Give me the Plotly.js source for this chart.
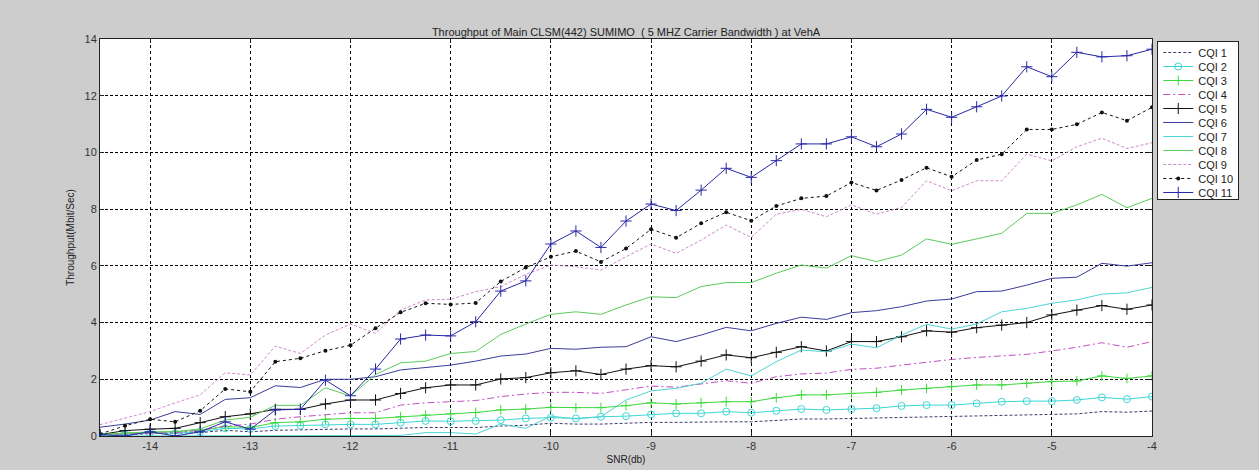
<!DOCTYPE html>
<html>
<head>
<meta charset="utf-8">
<script src="https://cdn.plot.ly/plotly-3.0.1.min.js"></script>
<style>html,body{margin:0;padding:0;background:#cdcdcd;}#chart{width:1259px;height:470px;}</style>
</head>
<body>
<div id="chart"></div>
<script>
const snr = [-14.5,-14.25,-14,-13.75,-13.5,-13.25,-13,-12.75,-12.5,-12.25,-12,-11.75,-11.5,-11.25,-11,-10.75,-10.5,-10.25,-10,-9.75,-9.5,-9.25,-9,-8.75,-8.5,-8.25,-8,-7.75,-7.5,-7.25,-7,-6.75,-6.5,-6.25,-6,-5.75,-5.5,-5.25,-5,-4.75,-4.5,-4.25,-4];

const cqi1  = [0.05,0.05,0.08,0.1,0.12,0.2,0.15,0.2,0.22,0.22,0.25,0.25,0.28,0.3,0.3,0.3,0.35,0.38,0.45,0.42,0.42,0.45,0.48,0.48,0.5,0.5,0.5,0.55,0.6,0.6,0.62,0.62,0.64,0.66,0.68,0.7,0.72,0.74,0.76,0.78,0.86,0.84,0.88];
const cqi2  = [0.02,0.05,0.1,0.1,0.15,0.27,0.25,0.35,0.37,0.41,0.41,0.41,0.47,0.53,0.52,0.53,0.56,0.62,0.65,0.62,0.68,0.7,0.76,0.8,0.8,0.86,0.82,0.89,0.95,0.92,0.95,0.98,1.06,1.09,1.09,1.15,1.21,1.23,1.23,1.27,1.36,1.3,1.39];
const cqi3  = [0.05,0.1,0.12,0.15,0.2,0.33,0.3,0.47,0.5,0.59,0.62,0.62,0.68,0.74,0.78,0.83,0.92,0.95,1.01,1.0,1.0,1.07,1.17,1.13,1.17,1.21,1.21,1.35,1.45,1.45,1.5,1.54,1.62,1.68,1.74,1.8,1.8,1.86,1.92,1.94,2.12,2.03,2.12];
const cqi4  = [0.05,0.07,0.1,0.12,0.2,0.35,0.42,0.59,0.68,0.74,0.82,0.82,1.09,1.17,1.2,1.25,1.39,1.48,1.54,1.54,1.5,1.62,1.76,1.72,1.83,1.95,1.86,2.09,2.19,2.22,2.35,2.39,2.5,2.6,2.7,2.77,2.82,2.88,3.0,3.13,3.29,3.13,3.33];
const cqi5  = [0.05,0.19,0.24,0.27,0.47,0.68,0.78,0.94,0.94,1.13,1.27,1.27,1.5,1.70,1.8,1.8,2.01,2.06,2.23,2.3,2.17,2.36,2.48,2.44,2.64,2.86,2.76,2.95,3.15,3.0,3.33,3.33,3.5,3.71,3.66,3.82,3.91,4.0,4.27,4.44,4.6,4.47,4.62];
const cqi6  = [0.31,0.42,0.56,0.86,0.76,1.29,1.35,1.77,1.71,2.0,2.0,2.09,2.33,2.41,2.5,2.64,2.82,2.89,3.09,3.06,3.13,3.15,3.5,3.33,3.56,3.83,3.71,3.97,4.19,4.11,4.35,4.42,4.56,4.76,4.83,5.09,5.11,5.32,5.56,5.6,6.09,5.99,6.11];
const cqi7  = [0,0,0,0,0,0,0,0,0,0,0,0,0.02,0.12,0.12,0.07,0.42,0.27,0.7,0.6,0.68,1.27,1.59,1.68,1.86,2.36,2.12,2.62,3.03,2.97,3.24,3.11,3.56,3.94,3.77,3.95,4.38,4.5,4.68,4.8,5.0,5.05,5.24];
const cqi8  = [0.05,0.1,0.15,0.15,0.25,0.56,0.66,1.08,1.08,1.70,1.41,2.17,2.58,2.64,2.91,2.98,3.58,3.95,4.29,4.38,4.29,4.62,4.91,4.88,5.27,5.41,5.41,5.74,6.03,5.92,6.36,6.15,6.38,6.95,6.76,6.95,7.15,7.85,7.85,8.15,8.52,8.05,8.38];
const cqi9  = [0.4,0.62,0.86,1.17,1.45,2.23,2.15,3.17,2.91,3.56,3.95,3.62,4.44,4.8,4.82,5.09,5.27,5.70,6.03,5.97,5.85,6.32,6.77,6.44,6.91,7.44,7.0,7.82,7.99,7.73,8.15,7.82,8.06,9.0,8.65,9.0,9.0,9.94,9.70,10.2,10.5,10.14,10.34];
const cqi10 = [0.07,0.36,0.59,0.5,0.89,1.66,1.56,2.62,2.74,3.01,3.2,3.80,4.36,4.68,4.64,4.69,5.45,5.94,6.32,6.52,6.14,6.61,7.29,6.99,7.5,7.89,7.59,8.11,8.38,8.46,8.94,8.66,9.03,9.46,9.14,9.73,9.94,10.81,10.81,10.99,11.41,11.12,11.59];
const cqi11 = [0.05,0.0,0.15,0.0,0.15,0.5,0.24,0.92,0.94,1.97,1.42,2.36,3.42,3.56,3.53,4.03,5.11,5.47,6.77,7.23,6.65,7.58,8.18,7.95,8.67,9.44,9.12,9.71,10.30,10.30,10.55,10.2,10.65,11.52,11.24,11.61,11.99,13.02,12.67,13.53,13.37,13.41,13.64];

const seriesNames = ['CQI 1','CQI 2','CQI 3','CQI 4','CQI 5','CQI 6','CQI 7','CQI 8','CQI 9','CQI 10','CQI 11'];
const yTicks = [0,2,4,6,8,10,12,14];
const xTicks = [-14,-13,-12,-11,-10,-9,-8,-7,-6,-5,-4];

const styles = [
  {color:'#3c3c6e', dash:'3px,2px', mode:'lines'},
  {color:'#3fd6d6', dash:'solid', mode:'lines+markers', marker:{symbol:'circle-open', size:7, color:'#3fd6d6', line:{width:1}}},
  {color:'#3ed83e', dash:'solid', mode:'lines+markers', marker:{symbol:'cross-thin-open', size:7, color:'#3ed83e', line:{width:1, color:'#3ed83e'}}},
  {color:'#c050c0', dash:'7px,3px,2px,3px', mode:'lines'},
  {color:'#111111', dash:'solid', mode:'lines+markers', marker:{symbol:'cross-thin-open', size:8, color:'#111111', line:{width:1, color:'#111111'}}},
  {color:'#3c3c9c', dash:'solid', mode:'lines'},
  {color:'#4fd4d4', dash:'solid', mode:'lines'},
  {color:'#5ccc5c', dash:'solid', mode:'lines'},
  {color:'#d088d0', dash:'3px,2px', mode:'lines'},
  {color:'#111111', dash:'3px,3px', mode:'lines+markers', marker:{symbol:'circle', size:4, color:'#111111'}},
  {color:'#2828a8', dash:'solid', mode:'lines+markers', marker:{symbol:'cross-thin-open', size:8, color:'#2828a8', line:{width:1, color:'#2828a8'}}}
];
const allY = [cqi1,cqi2,cqi3,cqi4,cqi5,cqi6,cqi7,cqi8,cqi9,cqi10,cqi11];

const traces = allY.map((y,i)=>{
  const s = styles[i];
  const t = {x:snr, y:y, name:seriesNames[i], type:'scatter', mode:s.mode,
    line:{color:s.color, width:1, dash:s.dash}};
  if (s.marker) t.marker = s.marker;
  return t;
});

const axisFont = {family:'Liberation Sans, Arial, sans-serif', size:11, color:'#333333'};
const layout = {
  width:1259, height:470,
  paper_bgcolor:'#cdcdcd', plot_bgcolor:'#ffffff',
  margin:{l:100, r:107, t:39, b:34},
  title:{text:'Throughput of Main CLSM(442) SUMIMO  ( 5 MHZ Carrier Bandwidth ) at VehA',
    font:{family:'Liberation Sans, Arial, sans-serif', size:11, color:'#222222'},
    xref:'paper', x:0.5, xanchor:'center', yref:'container', y:1-32/470, yanchor:'middle'},
  xaxis:{range:[-14.5,-4], tickvals:xTicks, ticktext:xTicks.map(String), tickfont:axisFont,
    showgrid:true, gridcolor:'#000000', gridwidth:1, griddash:'dot',
    showline:true, linecolor:'#222222', linewidth:1, mirror:'ticks', ticks:'inside', ticklen:4, tickcolor:'#222222',
    zeroline:false, fixedrange:true,
    title:{text:'SNR(db)', font:{family:'Liberation Sans, Arial, sans-serif', size:10, color:'#222222'}, standoff:4}},
  yaxis:{range:[0,14], tickvals:yTicks, ticktext:yTicks.map(String), tickfont:axisFont,
    showgrid:true, gridcolor:'#000000', gridwidth:1, griddash:'3px,2px',
    showline:true, linecolor:'#222222', linewidth:1, mirror:'ticks', ticks:'inside', ticklen:4, tickcolor:'#222222',
    zeroline:false, fixedrange:true,
    title:{text:'Throughput(Mbit/Sec)', font:{family:'Liberation Sans, Arial, sans-serif', size:10, color:'#222222'}, standoff:8}},
  legend:{x:1.005, xanchor:'left', y:0.995, yanchor:'top', bgcolor:'#ffffff', bordercolor:'#222222', borderwidth:1,
    font:{family:'Liberation Sans, Arial, sans-serif', size:11, color:'#222222'}, tracegroupgap:0, itemwidth:30},
  showlegend:true
};

Plotly.newPlot('chart', traces, layout, {displayModeBar:false, staticPlot:true}).then(function(gd){
  // tighten legend row spacing to match the compact MATLAB legend
  const leg = gd.querySelector('g.legend');
  if (!leg) return;
  const items = leg.querySelectorAll('g.traces');
  const step = 14;
  let y0 = null;
  items.forEach(function(it, i){
    const tr = it.getAttribute('transform') || '';
    const m = tr.match(/translate\(\s*([-\d.eE]+)[\s,]+([-\d.eE]+)\s*\)/);
    if (!m) return;
    const x = parseFloat(m[1]);
    const y = parseFloat(m[2]);
    if (y0 === null) y0 = y - 4;
    it.setAttribute('transform', 'translate(' + x + ',' + (y0 + i * step) + ')');
  });
  const bg = leg.querySelector('rect.bg');
  if (bg && y0 !== null) {
    bg.setAttribute('height', (y0 + (items.length - 1) * step + 7).toFixed(1));
  }
});
</script>
</body>
</html>
